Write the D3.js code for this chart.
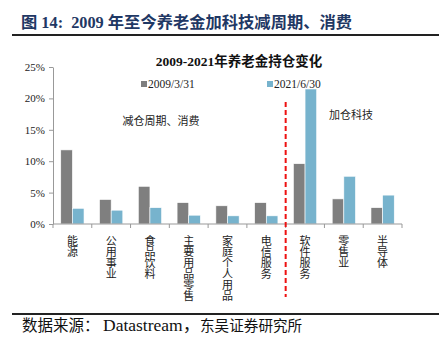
<!DOCTYPE html>
<html><head><meta charset="utf-8">
<script src="https://cdn.jsdelivr.net/npm/d3@7/dist/d3.min.js"></script>
<style>body{margin:0;background:#fff}svg{display:block}</style>
</head><body>
<script>
const categories = ["能源","公用事业","食品饮料","主要用品零售","家庭个人用品","电信服务","软件服务","零售业","半导体"];
const series2009 = [11.8, 3.9, 6.0, 3.4, 2.9, 3.4, 9.6, 4.0, 2.6];
const series2021 = [2.5, 2.2, 2.6, 1.4, 1.3, 1.3, 21.5, 7.6, 4.6];
const seriesNames = ["2009/3/31","2021/6/30"];
const yTicks = [0,5,10,15,20,25];

const W=439,H=358;
const svg=d3.select("body").append("svg").attr("width",W).attr("height",H);
const serif="'Liberation Serif','Times New Roman','Noto Sans CJK SC',serif";
const cjk="'Noto Sans CJK SC',sans-serif";

// header
svg.append("text").attr("x",21).attr("y",28).attr("fill","#1f3864").style("white-space","pre")
  .attr("font-family","'Liberation Serif','Noto Sans CJK SC',serif").attr("font-weight","bold").attr("font-size",16.3)
  .text("图 14:  2009 年至今养老金加科技减周期、消费");
svg.append("rect").attr("x",12).attr("y",34).attr("width",427).attr("height",2).attr("fill","#222");
svg.append("rect").attr("x",12).attr("y",313).attr("width",427).attr("height",2).attr("fill","#222");
const src=svg.append("text").attr("y",331).attr("fill","#111").attr("font-family",serif);
src.append("tspan").attr("x",22).attr("font-size",15.5).text("数据来源：");
src.append("tspan").attr("x",103).attr("font-size",17.5).text("Datastream，");
src.append("tspan").attr("x",200).attr("font-size",14.6).text("东吴证券研究所");

// chart title
svg.append("text").attr("x",239).attr("y",66).attr("text-anchor","middle").attr("fill","#111")
  .attr("font-family",serif).attr("font-weight","bold").attr("font-size",13.5).text("2009-2021年养老金持仓变化");

const x0=53,x1=402,yTop=67,yBot=224;
const x=d3.scaleBand().domain(categories).range([x0,x1]).paddingInner(0.4).paddingOuter(0.2);
const xo=d3.scaleBand().domain(categories).range([x0,x1]);
const y=d3.scaleLinear().domain([0,25]).range([yBot,yTop]);
const xs=d3.scaleBand().domain([0,1]).range([0,x.bandwidth()]);

const yAxis=svg.append("g").attr("transform",`translate(${x0},0)`)
  .call(d3.axisLeft(y).tickValues(yTicks).tickFormat(d=>d+"%").tickSize(4).tickSizeOuter(0));
yAxis.select(".domain").attr("stroke","#999");
yAxis.selectAll(".tick line").attr("stroke","#999");
yAxis.selectAll(".tick text").attr("font-family",serif).attr("font-size",11).attr("fill","#222").attr("x",-8);

const colors=["#7f7f7f","#77b3cd"];
[series2009,series2021].forEach((s,i)=>{
  svg.append("g").selectAll("rect").data(s).join("rect")
    .attr("x",(d,j)=>x(categories[j])+xs(i)).attr("width",xs.bandwidth())
    .attr("y",d=>y(d)).attr("height",d=>yBot-y(d)).attr("fill",colors[i])
    .attr("stroke","#fff").attr("stroke-width",0.6);
});

const xAxis=svg.append("g").attr("transform",`translate(0,${yBot})`);
xAxis.append("line").attr("x1",x0).attr("x2",x1).attr("stroke","#999");
const bounds=categories.map(c=>xo(c)).concat([x1]);
xAxis.selectAll("line.t").data(bounds).join("line").attr("class","t")
  .attr("x1",d=>d).attr("x2",d=>d).attr("y1",0).attr("y2",4).attr("stroke","#999");
categories.forEach(c=>{
  const cx=xo(c)+xo.bandwidth()/2;
  xAxis.append("text").attr("x",cx).attr("y",11)
    .style("writing-mode","vertical-rl").style("text-orientation","upright")
    .attr("font-family",cjk).attr("font-size",11).attr("fill","#222").text(c);
});

// divider
const dx=xo(categories[6]);
svg.append("line").attr("x1",dx).attr("x2",dx).attr("y1",102).attr("y2",297)
  .attr("stroke","#ee1111").attr("stroke-width",2).attr("stroke-dasharray","5,3");

// legend
const lg=[[141,seriesNames[0]],[267,seriesNames[1]]];
lg.forEach((l,i)=>{
  svg.append("rect").attr("x",l[0]).attr("y",81).attr("width",6).attr("height",6).attr("fill",colors[i]);
  svg.append("text").attr("x",l[0]+7).attr("y",88).attr("font-family",serif).attr("font-size",11.5).attr("fill","#222").text(l[1]);
});

svg.append("text").attr("x",161).attr("y",125).attr("text-anchor","middle").attr("font-family",cjk).attr("font-size",11).attr("fill","#222").text("减仓周期、消费");
svg.append("text").attr("x",351).attr("y",119).attr("text-anchor","middle").attr("font-family",cjk).attr("font-size",11).attr("fill","#222").text("加仓科技");
</script>
</body></html>
